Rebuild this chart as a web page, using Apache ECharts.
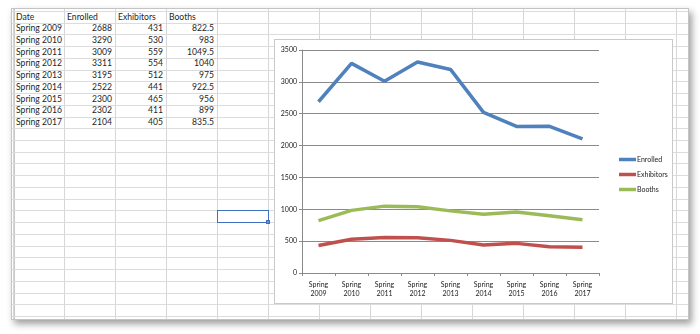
<!DOCTYPE html>
<html>
<head>
<meta charset="utf-8">
<script src="https://cdn.jsdelivr.net/npm/echarts@6/dist/echarts.min.js"></script>
<style>
  html, body { margin: 0; padding: 0; width: 700px; height: 334px; background: #ffffff; overflow: hidden; }
  #sheet { position: absolute; left: 11px; top: 8px; width: 678px; height: 312px; background: #fff;
           border: 1px solid #c4c4c4; box-sizing: border-box;
           box-shadow: 3px 4px 7px rgba(0,0,0,0.38); overflow: hidden; }
  .vl { position: absolute; top: 0; bottom: 0; width: 1px; background: #d6d6d6; }
  .hl { position: absolute; left: 0; right: 0; height: 1px; background: #dcdcdc; }
  .cell { position: absolute; font-family: Lato, "Open Sans", sans-serif; font-size: 8.6px; color: #1e1e1e;
          line-height: 11.7px; height: 11.7px; white-space: nowrap; }
  #sel { position: absolute; border: 1.5px solid #3f6fbd; box-sizing: border-box; }
  #handle { position: absolute; width: 4px; height: 4px; background: #5b8fd6; border: 1px solid #3f6fbd; box-sizing: border-box; }
  #chart { position: absolute; left: 274px; top: 39px; width: 399px; height: 265px; background: #fff;
           border: 1px solid #c9c9c9; box-sizing: border-box; }
</style>
</head>
<body>
<div id="sheet"></div>
<div id="chart"></div>
<script>
// Worksheet data
const headers = ['Date', 'Enrolled', 'Exhibitors', 'Booths'];
const dates = ['Spring 2009', 'Spring 2010', 'Spring 2011', 'Spring 2012', 'Spring 2013',
               'Spring 2014', 'Spring 2015', 'Spring 2016', 'Spring 2017'];
const enrolled = [2688, 3290, 3009, 3311, 3195, 2522, 2300, 2302, 2104];
const exhibitors = [431, 530, 559, 554, 512, 441, 465, 411, 405];
const booths = [822.5, 983, 1049.5, 1040, 975, 922.5, 956, 899, 835.5];
// Axis category labels (two lines each)
const categoryLabels = ['Spring\n2009', 'Spring\n2010', 'Spring\n2011', 'Spring\n2012', 'Spring\n2013',
                        'Spring\n2014', 'Spring\n2015', 'Spring\n2016', 'Spring\n2017'];

// ---- worksheet grid ----
const sheet = document.getElementById('sheet');
const ox = 11, oy = 8;              // sheet origin on the page
const colX0 = 12, colW = 51;        // column boundaries (page coords)
const rowY0 = 10, rowH = 11.73;     // row boundaries (page coords)
function add(cls, css, text) {
  const d = document.createElement('div');
  d.className = cls;
  Object.assign(d.style, css);
  if (text !== undefined) d.textContent = text;
  sheet.appendChild(d);
  return d;
}
for (let c = 0; c < 14; c++) add('vl', { left: (colX0 + c * colW - ox) + 'px' });
add('vl', { left: (13 - ox) + 'px', background: '#c8c8c8' });
for (let r = 0; r < 28; r++) add('hl', { top: (rowY0 + r * rowH - oy) + 'px' });

function cellLeft(col, row, text) {
  add('cell', { left: (colX0 + col * colW + 3 - ox) + 'px', top: (rowY0 + row * rowH - oy + 0.5) + 'px' }, text);
}
function cellRight(col, row, text) {
  add('cell', { left: (colX0 + col * colW - ox) + 'px', width: (colW - 3) + 'px', textAlign: 'right',
                top: (rowY0 + row * rowH - oy + 0.5) + 'px' }, text);
}
headers.forEach((h, i) => cellLeft(i, 0, h));
dates.forEach((d, i) => {
  cellLeft(0, i + 1, d);
  cellRight(1, i + 1, String(enrolled[i]));
  cellRight(2, i + 1, String(exhibitors[i]));
  cellRight(3, i + 1, String(booths[i]));
});
// active cell
const sel = add('', { left: (colX0 + 4 * colW - ox) + 'px', top: (rowY0 + 17 * rowH - oy) + 'px',
                      width: (colW + 1) + 'px', height: (rowH + 1) + 'px' });
sel.id = 'sel';
const hd = add('', { left: (colX0 + 5 * colW - ox - 2) + 'px', top: (rowY0 + 18 * rowH - oy - 2) + 'px' });
hd.id = 'handle';

// ---- line chart ----
const chart = echarts.init(document.getElementById('chart'), null, { renderer: 'canvas' });
const font = 'Lato, "Open Sans", sans-serif';
chart.setOption({
  animation: false,
  backgroundColor: '#ffffff',
  color: ['#4f81bd', '#c0504d', '#9bbb59'],
  grid: { left: 27, top: 10, right: 73, bottom: 30, containLabel: false },
  legend: {
    orient: 'vertical',
    left: 339, top: 111,
    itemWidth: 17, itemHeight: 3.5, itemGap: 8,
    icon: 'rect',
    textStyle: { fontFamily: font, fontSize: 7, color: '#222', padding: [0, 0, 0, -4] },
    data: ['Enrolled', 'Exhibitors', 'Booths']
  },
  xAxis: {
    type: 'category',
    data: categoryLabels,
    boundaryGap: true,
    axisLine: { lineStyle: { color: '#8a8a8a', width: 1 } },
    axisTick: { show: true, length: 3, interval: 0, lineStyle: { color: '#8a8a8a' } },
    axisLabel: { fontFamily: font, fontSize: 7, color: '#222', lineHeight: 9, margin: 7, interval: 0 }
  },
  yAxis: {
    type: 'value',
    min: 0, max: 3500, interval: 500,
    axisLine: { show: true, lineStyle: { color: '#8a8a8a', width: 1 } },
    axisTick: { show: true, length: 3, lineStyle: { color: '#8a8a8a' } },
    axisLabel: { fontFamily: font, fontSize: 7, color: '#222', margin: 5, formatter: (v) => String(v) },
    splitLine: { lineStyle: { color: '#8a8a8a', width: 1 } }
  },
  series: [
    { name: 'Enrolled', type: 'line', data: enrolled, symbol: 'none', lineStyle: { width: 3.5 } },
    { name: 'Exhibitors', type: 'line', data: exhibitors, symbol: 'none', lineStyle: { width: 3.5 } },
    { name: 'Booths', type: 'line', data: booths, symbol: 'none', lineStyle: { width: 3.5 } }
  ]
});
</script>
</body>
</html>
